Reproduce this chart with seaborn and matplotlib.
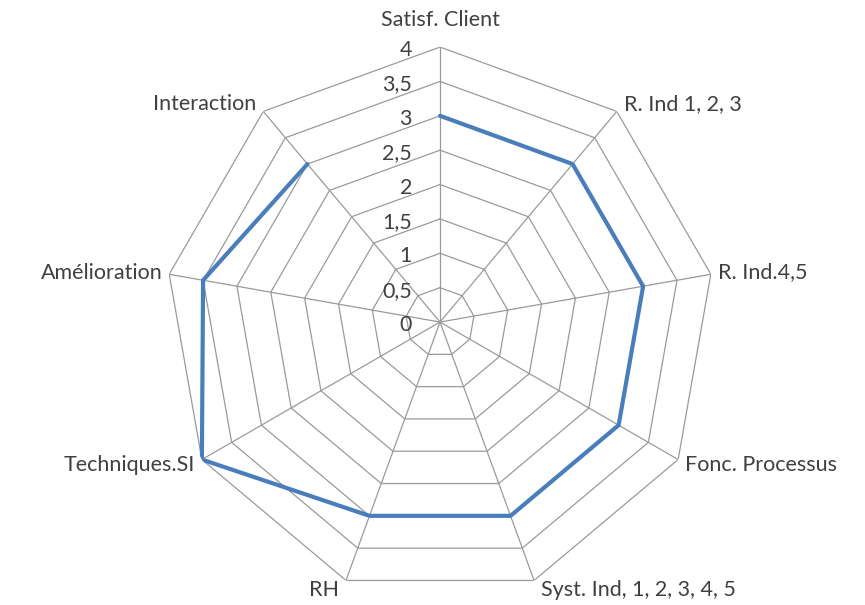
import numpy as np
import seaborn as sns
import matplotlib.pyplot as plt

# Data
categories = ["Satisf. Client", "R. Ind 1, 2, 3", "R. Ind.4,5", "Fonc. Processus",
              "Syst. Ind, 1, 2, 3, 4, 5", "RH", "Techniques.SI", "Amélioration", "Interaction"]
values = [3, 3, 3, 3, 3, 3, 4, 3.5, 3]
levels = [0, 0.5, 1, 1.5, 2, 2.5, 3, 3.5, 4]
level_labels = ["0", "0,5", "1", "1,5", "2", "2,5", "3", "3,5", "4"]

sns.set_style("white")
plt.rcParams['font.family'] = ['Lato', 'DejaVu Sans']

n = len(categories)
angles = np.linspace(0, 2 * np.pi, n, endpoint=False)
ang_closed = np.append(angles, angles[0])
val_closed = np.append(values, values[0])

fig = plt.figure(figsize=(8.65, 6.05), dpi=100)
ax = fig.add_axes([0.1908, 0.0132, 0.6358, 0.909], projection='polar')
ax.set_theta_offset(np.pi / 2)
ax.set_theta_direction(-1)
ax.set_ylim(0, 4)
ax.grid(False)
ax.spines['polar'].set_visible(False)
ax.set_xticks([])
ax.set_yticks([])

grid_col = "#9a9a9a"
txt_col = "#404040"
fs = 15.5
px = 72 / 100  # points per pixel

# polygon grid
for lv in levels[1:]:
    ax.plot(ang_closed, [lv] * (n + 1), color=grid_col, lw=0.9, zorder=1)
# spokes
for a in angles:
    ax.plot([a, a], [0, levels[-1]], color=grid_col, lw=0.9, zorder=1)

# data line
sns.lineplot(x=ang_closed, y=val_closed, sort=False, ax=ax, color="#4a7ebb",
             linewidth=3, zorder=3)

# radial tick labels
for lv, lbl in zip(levels, level_labels):
    ax.annotate(lbl, xy=(0, lv), xytext=(-28 * px, -3 * px), textcoords='offset points',
                ha='right', va='center', fontsize=fs, color=txt_col)

# category labels
for a, cat in zip(angles, categories):
    deg = np.degrees(a) % 360
    dx, dy = np.sin(a), np.cos(a)
    if deg < 1 or deg > 359:
        ha, off = 'center', (0, 27)
    else:
        ha = 'left' if deg < 180 else 'right'
        off = (7 * np.sign(dx), 10 * dy)
    ax.annotate(cat, xy=(a, 4), xytext=(off[0] * px, off[1] * px), textcoords='offset points',
                ha=ha, va='center', fontsize=fs, color=txt_col, annotation_clip=False)

plt.savefig("out.png", dpi=100)
plt.close()
